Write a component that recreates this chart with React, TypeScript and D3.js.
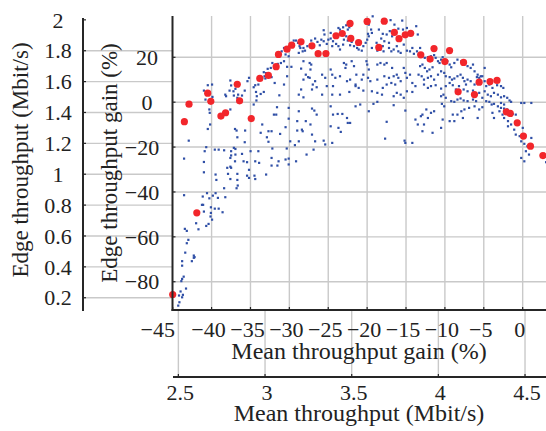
import React from "react";
import * as d3 from "d3";

// Inner axes: gain (%) ; outer axes: absolute throughput (Mbit/s)
const innerXTicks = [-45, -40, -35, -30, -25, -20, -15, -10, -5, 0];
const innerYTicks = [20, 0, -20, -40, -60, -80];
const outerXTicks = [2.5, 3, 3.5, 4, 4.5];
const outerYTicks = [2, 1.8, 1.6, 1.4, 1.2, 1, 0.8, 0.6, 0.4, 0.2];

// Red highlighted points [mean gain %, edge gain %]
const redPoints: [number, number][] = [
  [-29.7, 25.4], [-30.3, 23.6], [-31.4, 21.3], [-31.7, 15.8], [-32.7, 11.9], [-33.8, 10.6],
  [-36.7, 8.0], [-40.5, 4.0], [-40.1, 0.4], [-36.4, 0.6], [-42.9, -0.9], [-38.2, -4.7],
  [-38.8, -6.2], [-34.9, -7.3], [-43.5, -8.7], [-41.9, -49.3], [-45.0, -85.7],
  [-28.5, 26.9], [-27.1, 25.1], [-26.3, 21.6], [-25.3, 21.7], [-24.0, 29.6], [-23.2, 30.6],
  [-22.2, 35.1], [-22.1, 28.4], [-21.1, 26.6], [-20.0, 36.0], [-18.5, 24.4], [-17.8, 36.1],
  [-16.5, 31.1], [-15.9, 28.3], [-15.1, 30.0], [-14.4, 30.7], [-13.1, 21.1],
  [-11.4, 23.9], [-11.9, 19.2], [-9.4, 23.0], [-10.0, 18.1], [-7.6, 17.7], [-5.6, 8.9],
  [-4.2, 9.2], [-3.3, 9.7], [-8.3, 4.6], [-6.2, 3.4], [-2.1, -4.3], [-1.6, -5.0],
  [-0.7, -9.2], [0.1, -15.1], [1.0, -19.6], [2.6, -23.8],
];

// Blue points, left/upper-left region
const blueLeft: [number, number][] = [
  [-29.45, 27.5], [-29.15, 27.5], [-30.7, 24.2], [-31.0, 22.7], [-30.5, 21.3], [-30.1, 20.5],
  [-30.7, 18.3], [-31.1, 17.5], [-31.5, 17.1], [-30.3, 15.8], [-29.75, 15.8], [-32.2, 17.5],
  [-32.4, 15.3], [-32.8, 14.9], [-33.0, 13.0], [-33.3, 13.4], [-33.2, 11.6], [-33.5, 10.9],
  [-34.0, 10.1], [-34.4, 7.6], [-34.6, 6.7], [-34.0, 7.9], [-35.2, 10.9], [-35.4, 9.4],
  [-33.1, 10.6], [-32.3, 11.2], [-31.9, 8.6], [-30.7, 7.9], [-30.3, 11.6], [-31.3, 3.1],
  [-33.3, 4.6], [-33.7, 3.7], [-34.2, 2.7], [-34.3, 4.6], [-34.6, -1.0], [-34.25, 0.8],
  [-31.6, -2.2], [-30.1, -2.5], [-32.0, -5.5], [-31.7, -5.5], [-30.1, -7.3], [-29.0, -8.4],
  [-30.5, -11.1], [-32.3, -12.9], [-32.7, -12.9], [-31.2, -14.1], [-29.0, -12.6], [-33.7, -13.6],
  [-32.9, -15.6], [-33.5, -9.9], [-35.7, -12.6], [-37.0, -11.9], [-36.8, -12.6], [-35.75, -17.8],
  [-36.7, -15.6], [-29.9, -17.4], [-29.3, -19.1], [-30.35, -20.6], [-32.2, -20.6], [-32.7, -17.6],
  [-34.0, -21.8], [-35.0, -21.8], [-36.1, -23.0], [-36.95, -23.3], [-35.9, -26.3], [-37.0, -26.3],
  [-35.45, -26.7], [-34.4, -26.3], [-33.9, -27.0], [-32.3, -24.8], [-31.4, -26.3], [-30.5, -25.5],
  [-30.1, -25.1], [-29.15, -26.3], [-30.1, -27.7],
  [-40.5, 7.6], [-39.95, 7.9], [-41.0, 5.2], [-40.8, 1.2], [-39.9, 2.4], [-37.6, 9.7],
  [-37.5, 7.5], [-36.95, 6.0], [-37.2, 4.9], [-37.7, 5.2], [-37.15, 3.0], [-36.6, 3.4],
  [-38.15, 2.7], [-38.25, 3.4], [-35.75, 5.2], [-36.1, 3.0], [-36.7, 2.0], [-37.6, -3.2],
  [-38.3, -5.2], [-40.3, -3.2], [-40.25, -4.7], [-40.2, -9.9], [-40.5, -11.9], [-42.95, -17.1],
  [-43.55, -25.1], [-40.9, -21.8], [-40.7, -20.0], [-41.0, -26.6], [-39.6, -21.1], [-39.1, -21.1],
  [-38.4, -21.4], [-37.5, -21.8], [-37.15, -20.3], [-36.95, -20.8], [-37.5, -23.7], [-37.6, -24.8],
];

// Blue points, lower-left tail
const blueTail: [number, number][] = [
  [-41.0, -31.2], [-39.5, -32.2], [-39.4, -34.6], [-38.0, -29.2], [-37.6, -28.7], [-37.5, -29.2],
  [-37.9, -31.9], [-36.7, -31.9], [-37.6, -34.2], [-36.7, -34.6], [-36.65, -37.1], [-36.8, -38.3],
  [-38.4, -38.3], [-35.2, -30.1], [-35.45, -32.7], [-35.2, -33.7], [-34.5, -32.7], [-34.4, -34.2],
  [-33.0, -32.2], [-32.3, -28.2], [-31.55, -28.2],
  [-43.55, -41.4], [-41.15, -42.0], [-40.6, -40.5], [-40.3, -42.8], [-39.85, -41.6], [-39.5, -40.5],
  [-39.2, -42.6], [-38.25, -42.3], [-41.25, -45.7], [-41.1, -45.7], [-40.1, -46.8], [-39.6, -47.4],
  [-39.1, -47.4], [-41.0, -48.7], [-40.1, -49.3], [-38.6, -49.0], [-40.15, -50.9], [-39.95, -52.3],
  [-40.4, -54.2], [-40.7, -55.1], [-42.0, -53.9], [-41.7, -56.6], [-43.45, -56.4], [-43.2, -57.3],
  [-43.0, -61.3], [-43.2, -62.8], [-43.4, -67.0], [-42.3, -68.3], [-42.2, -69.0], [-42.3, -69.3],
  [-42.55, -70.8], [-43.8, -70.8], [-43.8, -72.8], [-43.6, -77.7], [-43.8, -78.7], [-43.9, -79.7],
  [-43.3, -83.0], [-44.0, -84.3], [-43.7, -85.8], [-43.8, -86.9], [-44.2, -86.1], [-44.15, -89.1],
  [-44.3, -90.6],
];

// Blue points, central region
const blueMid: [number, number][] = [
  [-25.6, 32.1], [-25.5, 30.2], [-24.7, 30.9], [-23.7, 33.1], [-23.5, 32.4], [-23.1, 33.4],
  [-22.7, 34.3], [-22.5, 32.4], [-22.3, 33.4], [-19.3, 38.3], [-19.8, 34.6], [-19.5, 32.4],
  [-19.4, 30.9], [-19.9, 30.5], [-18.5, 32.4], [-18.0, 30.5], [-17.5, 30.2], [-17.1, 31.7],
  [-16.8, 29.4], [-18.2, 28.4], [-17.8, 27.2], [-17.2, 26.5], [-16.5, 34.6], [-16.0, 32.8],
  [-15.4, 32.4], [-14.9, 33.1], [-15.5, 36.4], [-17.0, 36.6], [-13.7, 33.9], [-13.5, 30.2],
  [-28.9, 26.5], [-28.7, 25.0], [-28.6, 24.2], [-28.3, 22.7], [-28.2, 24.2], [-28.0, 23.0],
  [-28.8, 22.0], [-27.7, 25.0], [-27.2, 27.5], [-26.7, 28.4], [-26.4, 26.9], [-26.1, 25.4],
  [-25.9, 27.9], [-25.6, 27.2], [-25.2, 26.0], [-25.0, 27.9], [-24.7, 28.4], [-24.5, 25.0],
  [-24.4, 27.2], [-24.0, 26.0], [-23.7, 25.0], [-23.5, 23.5], [-23.1, 25.7], [-23.0, 27.9],
  [-22.7, 29.4], [-22.5, 27.5], [-22.2, 25.4], [-22.0, 26.9], [-21.7, 25.0], [-21.3, 24.2],
  [-21.1, 23.5], [-20.7, 23.0], [-20.5, 25.0], [-20.2, 26.5], [-20.0, 27.9], [-19.8, 29.4],
  [-19.4, 24.2], [-18.8, 26.5], [-18.7, 23.0], [-18.3, 23.5], [-18.0, 25.0], [-17.9, 22.7],
  [-17.2, 24.2], [-16.9, 22.7], [-16.6, 23.5], [-16.2, 25.0], [-16.0, 22.7], [-15.7, 22.0],
  [-15.3, 25.7], [-14.9, 23.0], [-14.5, 22.7], [-14.2, 24.2], [-14.0, 21.6], [-13.6, 22.7],
  [-13.4, 21.3], [-13.2, 24.2],
  [-28.5, 15.0], [-28.2, 18.3], [-27.4, 17.5], [-27.2, 16.8], [-27.3, 14.6], [-27.9, 12.3],
  [-27.6, 11.2], [-27.4, 10.9], [-28.2, 10.1], [-26.7, 9.4], [-27.0, 7.9], [-26.5, 6.7],
  [-25.8, 12.3], [-25.4, 10.9], [-24.7, 14.6], [-24.5, 12.3], [-24.4, 7.2], [-25.2, 7.2],
  [-24.1, 10.9], [-23.5, 11.6], [-23.0, 17.5], [-22.7, 16.8], [-22.8, 15.3], [-22.0, 18.3],
  [-21.7, 16.1], [-21.4, 12.3], [-22.6, 9.4], [-22.2, 10.1], [-21.5, 7.9], [-21.1, 6.4],
  [-20.7, 10.1], [-20.5, 12.3], [-20.1, 18.3], [-20.0, 16.8], [-19.8, 14.6], [-19.9, 10.9],
  [-19.6, 9.4], [-18.7, 16.8], [-18.3, 17.5], [-17.8, 16.8], [-17.5, 17.5], [-16.8, 15.3],
  [-17.8, 11.6], [-17.2, 10.9], [-16.6, 11.6], [-16.2, 12.3], [-16.0, 10.9], [-15.7, 9.4],
  [-16.4, 7.9], [-16.9, 8.6], [-17.5, 7.9], [-18.0, 6.4], [-18.7, 10.1], [-15.3, 15.3],
  [-15.1, 13.1], [-14.9, 10.9], [-14.5, 12.3], [-14.2, 8.6], [-13.8, 7.2], [-13.4, 12.3],
  [-13.2, 16.1], [-14.9, 4.9], [-14.2, 4.6], [-16.2, 4.2], [-16.6, 2.7], [-15.7, 3.4],
  [-15.3, 2.0], [-18.1, 3.4], [-18.7, 4.2], [-19.4, 4.9], [-20.5, 5.2], [-21.5, 7.2],
  [-22.3, 4.6], [-23.5, 3.4], [-24.5, 3.4], [-25.8, 3.4], [-27.1, 5.7], [-28.5, 5.7],
  [-28.8, 3.4], [-28.2, 2.2],
  [-28.8, -4.0], [-27.9, -8.4], [-27.1, -2.8], [-26.8, -3.7], [-28.4, -12.2], [-28.3, -12.9],
  [-27.1, -14.4], [-26.7, -17.4], [-25.6, -17.1], [-24.7, -10.7], [-24.4, -5.5], [-23.8, -5.2],
  [-23.2, -5.2], [-22.6, -7.0], [-22.5, -9.2], [-22.2, -9.2], [-23.7, -11.4], [-23.4, -13.2],
  [-24.5, -18.1], [-25.4, -18.8], [-26.9, -21.1], [-27.8, -23.3], [-21.5, -1.8], [-20.9, -1.0],
  [-19.8, -4.0], [-19.2, -0.7], [-18.7, 0.2], [-16.6, -1.3], [-15.1, -3.7], [-17.5, -8.7],
  [-17.7, -16.2], [-15.2, -17.1], [-15.1, -18.1], [-14.2, -18.1], [-13.8, -7.7], [-13.5, -9.9],
  [-13.1, -6.2], [-28.8, -17.4], [-27.3, -9.9], [-26.5, -5.5], [-24.7, -1.8],
];

// Blue points, right region
const blueRight: [number, number][] = [
  [-12.9, 20.5], [-12.6, 19.8], [-12.2, 20.1], [-11.8, 20.5], [-11.4, 21.0], [-11.2, 19.8],
  [-10.9, 18.3], [-10.7, 17.5], [-10.5, 19.0], [-10.3, 20.1], [-9.7, 18.3], [-9.4, 16.8],
  [-9.2, 15.6], [-8.8, 17.5], [-8.4, 19.0], [-7.9, 18.3], [-7.1, 16.1], [-6.7, 15.3],
  [-6.4, 16.8], [-6.2, 13.8], [-5.8, 12.3], [-5.4, 11.6], [-4.9, 15.3], [-12.9, 16.8],
  [-12.6, 15.3], [-12.3, 13.8], [-12.0, 14.6], [-11.6, 15.6], [-13.0, 11.6], [-12.7, 10.1],
  [-12.2, 10.9], [-11.8, 11.6], [-11.4, 10.1], [-10.9, 12.3], [-10.5, 13.8], [-10.1, 13.1],
  [-9.9, 11.6], [-9.4, 11.2], [-9.1, 10.1], [-8.8, 10.6], [-8.4, 11.6], [-8.0, 12.3],
  [-7.7, 10.9], [-7.5, 9.4], [-7.3, 7.9], [-7.1, 10.1], [-6.7, 9.4], [-6.2, 7.9],
  [-5.9, 11.2], [-5.6, 10.9], [-5.2, 11.6], [-4.9, 9.4], [-4.7, 7.2], [-4.3, 7.9],
  [-3.9, 6.4], [-3.3, 7.6], [-2.8, 7.2], [-2.5, 6.4], [-12.7, 7.9], [-12.2, 6.4],
  [-11.8, 7.2], [-11.2, 7.6], [-10.5, 6.1], [-9.9, 7.2], [-9.4, 8.6], [-9.0, 7.6],
  [-8.6, 5.7], [-8.2, 7.2], [-7.6, 5.7], [-7.1, 4.9], [-6.4, 5.2], [-6.0, 3.4],
  [-5.6, 4.2], [-4.9, 4.9], [-4.5, 3.4], [-4.1, 2.7], [-3.7, 4.2], [-3.2, 3.4],
  [-2.8, 2.2], [-2.4, 2.7], [-2.0, 2.0], [-1.7, 0.8], [-1.5, 0.2], [-5.2, 2.0],
  [-4.7, 0.5], [-4.3, 0.2], [-4.0, -1.0], [-3.7, -0.7], [-3.2, -1.8], [-2.8, -2.5],
  [-2.4, -2.8], [-2.0, -3.2], [-1.7, -4.0], [-1.3, -5.2], [-0.9, -5.5], [-0.2, -0.3],
  [0.2, -0.3], [1.1, -0.3], [-6.0, 0.5], [-6.4, 1.2], [-7.1, 0.5], [-7.6, 0.8],
  [-8.0, 1.7], [-8.4, 1.2], [-8.8, 0.2], [-9.2, 0.5], [-9.9, 2.0], [-10.2, 3.4],
  [-10.5, 2.7], [-10.4, -0.7], [-10.1, -1.8], [-11.4, -4.0], [-11.8, -4.7], [-12.4, -3.2],
  [-12.9, -5.5], [-12.2, -7.0], [-12.7, -9.9], [-12.9, -12.9], [-11.6, -13.6], [-10.5, -11.4],
  [-10.3, -7.7], [-9.4, -8.4], [-9.0, -5.5], [-8.4, -5.5], [-7.9, -4.0], [-7.5, -3.2],
  [-6.9, -2.5], [-6.2, -1.8], [-5.6, -3.2], [-5.2, -2.2], [-8.8, -8.4], [-7.7, -7.0],
  [-5.8, -7.0], [-3.9, -4.7], [-3.7, -7.0], [-3.0, -4.0], [-2.6, -5.5], [-2.4, -7.0],
  [-1.9, -8.4], [-1.5, -9.9], [-1.9, -10.7], [-1.1, -12.2], [-0.9, -14.4], [-0.4, -15.1],
  [0.0, -11.4], [-0.2, -17.4], [0.2, -18.5], [0.6, -19.6], [0.4, -21.8], [0.8, -23.3],
  [0.2, -26.3], [-0.2, -24.8], [1.1, -15.9], [-2.8, -0.3], [-2.4, -1.0], [3.0, -26.7],
];

const W = 546;
const H = 431;
const FONT = "Liberation Serif, DejaVu Serif, serif";
const GRID = "#c9c9c9";
const AXIS = "#262626";
const BLUE = "#2f4fa6";
const RED = "#f2262b";
const TXT = { fontFamily: FONT, fill: "#222" } as React.CSSProperties;

export default function App() {
  // Inner (gain) scales
  const xIn = d3.scaleLinear().domain([-45, 3]).range([172.7, 546]);
  const yIn = d3.scaleLinear().domain([-92.6, 38.4]).range([310, 16]);
  // Outer (absolute) scales
  const xOut = d3.scaleLinear().domain([2.469, 4.621]).range([173, 546]);
  const yOut = d3.scaleLinear().domain([0.114, 2.012]).range([311, 18]);

  const innerLeft = 172.5;
  const innerBottom = 310;
  const outerLeft = 83;
  const outerBottom = 377;

  const fmt = (v: number) => (v < 0 ? "\u2212" + String(-v) : String(v));
  const blue = [...blueLeft, ...blueTail, ...blueMid, ...blueRight];

  return (
    <svg
      width={W}
      height={H}
      style={{ position: "absolute", left: 0, top: 0, background: "#fff", fontFamily: FONT }}
    >
      <rect x={0} y={0} width={W} height={H} fill="#fff" />
      {/* outer grid lines (visible only outside inner plot) */}
      {outerYTicks.filter((t) => t < 1.99).map((t) => (
        <line key={"oyg" + t} x1={outerLeft} x2={innerLeft} y1={yOut(t)} y2={yOut(t)} stroke={GRID} strokeWidth={1.4} />
      ))}
      {outerXTicks.map((t) => (
        <line key={"oxg" + t} x1={xOut(t)} x2={xOut(t)} y1={innerBottom} y2={outerBottom} stroke={GRID} strokeWidth={1.4} />
      ))}
      {/* outer axes */}
      <line x1={outerLeft} x2={outerLeft} y1={18} y2={311} stroke={AXIS} strokeWidth={2} />
      <line x1={173} x2={546} y1={outerBottom} y2={outerBottom} stroke={AXIS} strokeWidth={2} />
      {outerXTicks.map((t) => (
        <line key={"oxt" + t} x1={xOut(t)} x2={xOut(t)} y1={outerBottom} y2={outerBottom - 3} stroke={AXIS} strokeWidth={1.2} />
      ))}
      {outerYTicks.map((t) => (
        <line key={"oyt" + t} x1={outerLeft} x2={outerLeft + 3} y1={yOut(t)} y2={yOut(t)} stroke={AXIS} strokeWidth={1.2} />
      ))}
      {outerYTicks.map((t) => (
        <text key={"oyl" + t} x={58} y={yOut(t)} dy="0.35em" textAnchor="middle" fontSize={22} style={TXT}>
          {String(t)}
        </text>
      ))}
      {outerXTicks.map((t) => (
        <text key={"oxl" + t} x={xOut(t) + 2} y={400} textAnchor="middle" fontSize={22} style={TXT}>
          {String(t)}
        </text>
      ))}
      <text transform="translate(28,160) rotate(-90)" textAnchor="middle" fontSize={23} style={TXT}>
        Edge throughput (Mbit/s)
      </text>
      <text x={359} y={421} textAnchor="middle" fontSize={24} style={TXT}>
        Mean throughput (Mbit/s)
      </text>

      {/* inner plot */}
      <rect x={innerLeft} y={16} width={W - innerLeft} height={innerBottom - 16} fill="#fff" />
      {innerYTicks.map((t) => (
        <line key={"iyg" + t} x1={innerLeft} x2={W} y1={yIn(t)} y2={yIn(t)} stroke={GRID} strokeWidth={1.4} />
      ))}
      {innerXTicks.filter((t) => t > -45).map((t) => (
        <line key={"ixg" + t} x1={xIn(t)} x2={xIn(t)} y1={16} y2={innerBottom} stroke={GRID} strokeWidth={1.4} />
      ))}
      {blue.map(([x, y], i) => (
        <rect key={"b" + i} x={xIn(x) - 1} y={yIn(y) - 1} width={2.2} height={2.2} fill={BLUE} />
      ))}
      {redPoints.map(([x, y], i) => (
        <circle key={"r" + i} cx={xIn(x)} cy={yIn(y)} r={3.6} fill={RED} />
      ))}
      <line x1={innerLeft} x2={innerLeft} y1={16} y2={innerBottom + 1} stroke={AXIS} strokeWidth={2} />
      <line x1={innerLeft - 1} x2={W} y1={innerBottom} y2={innerBottom} stroke={AXIS} strokeWidth={2} />
      {innerXTicks.map((t) => (
        <line key={"ixt" + t} x1={xIn(t)} x2={xIn(t)} y1={innerBottom} y2={innerBottom - 3} stroke={AXIS} strokeWidth={1.2} />
      ))}
      {innerYTicks.map((t) => (
        <line key={"iyt" + t} x1={innerLeft} x2={innerLeft + 3} y1={yIn(t)} y2={yIn(t)} stroke={AXIS} strokeWidth={1.2} />
      ))}
      {innerYTicks.map((t) => (
        <text key={"iyl" + t} x={t < 0 ? 142 : 147} y={yIn(t)} dy="0.35em" textAnchor="middle" fontSize={22} style={TXT}>
          {fmt(t)}
        </text>
      ))}
      {innerXTicks.map((t) => (
        <text key={"ixl" + t} x={t === -45 ? xIn(t) - 15 : xIn(t) - 3} y={337} textAnchor="middle" fontSize={22} style={TXT}>
          {fmt(t)}
        </text>
      ))}
      <text transform="translate(117,163) rotate(-90)" textAnchor="middle" fontSize={23} style={TXT}>
        Edge throughput gain (%)
      </text>
      <text x={359} y={359} textAnchor="middle" fontSize={24} style={TXT}>
        Mean throughput gain (%)
      </text>
    </svg>
  );
}
